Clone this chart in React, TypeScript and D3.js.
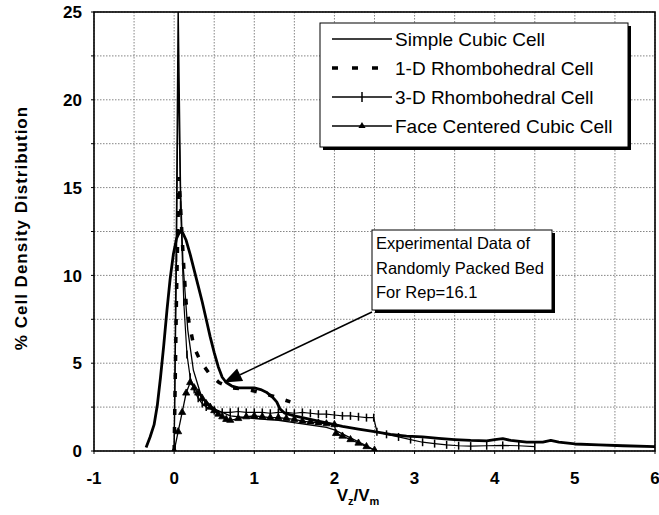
import React from "react";
import * as d3 from "d3";

const xTicks = [-1, 0, 1, 2, 3, 4, 5, 6];
const yTicks = [0, 5, 10, 15, 20, 25];

const legendLabels = [
  "Simple Cubic Cell",
  "1-D Rhombohedral Cell",
  "3-D Rhombohedral Cell",
  "Face Centered Cubic Cell",
];

const annotationLines = ["Experimental Data of", "Randomly Packed Bed", "For Rep=16.1"];

// Experimental data (thick solid line, no legend entry)
const experimental: [number, number][] = [
  [-0.35, 0.2], [-0.3, 0.8], [-0.25, 1.5], [-0.21, 2.6], [-0.17, 4.2], [-0.13, 6.0],
  [-0.09, 8.0], [-0.05, 9.8], [-0.01, 11.2], [0.03, 12.1], [0.07, 12.5], [0.11, 12.4],
  [0.15, 12.0], [0.2, 11.2], [0.25, 10.3], [0.3, 9.4], [0.35, 8.5], [0.4, 7.5],
  [0.45, 6.5], [0.5, 5.6], [0.55, 4.8], [0.6, 4.2], [0.65, 3.9], [0.72, 3.7],
  [0.8, 3.6], [0.9, 3.6], [1.0, 3.6], [1.08, 3.5], [1.15, 3.35], [1.22, 3.1],
  [1.28, 2.8], [1.32, 2.4], [1.38, 2.15], [1.5, 2.0], [1.7, 1.8], [1.9, 1.6],
  [2.1, 1.4], [2.3, 1.25], [2.5, 1.1], [2.7, 0.95], [2.9, 0.85], [3.1, 0.8],
  [3.3, 0.72], [3.5, 0.65], [3.7, 0.6], [3.9, 0.58], [4.0, 0.65], [4.1, 0.7],
  [4.2, 0.6], [4.4, 0.5], [4.6, 0.5], [4.7, 0.6], [4.8, 0.5], [5.0, 0.4],
  [5.3, 0.35], [5.6, 0.3], [6.0, 0.25],
];

// Simple Cubic Cell (thin solid)
const simpleCubic: [number, number][] = [
  [0.0, 0], [0.03, 14], [0.05, 25.5], [0.08, 15], [0.11, 10.7], [0.17, 6.9],
  [0.24, 4.6], [0.34, 3.1], [0.5, 2.4], [0.7, 2.0], [1.0, 1.85], [1.3, 1.75],
  [1.6, 1.55], [1.9, 1.35], [2.0, 1.2], [2.2, 0.75], [2.4, 0.3], [2.5, 0.05],
];

// 1-D Rhombohedral Cell (thick dashed)
const rhombo1D: [number, number][] = [
  [0.0, 0], [0.03, 9], [0.06, 15.6], [0.09, 13], [0.12, 10.5], [0.15, 8.4],
  [0.19, 7.2], [0.25, 5.9], [0.33, 5.1], [0.44, 4.4], [0.56, 3.9], [0.71, 3.6],
  [0.92, 3.5], [1.1, 3.3], [1.25, 3.1], [1.45, 2.8],
];

// 3-D Rhombohedral Cell (thin line with + markers)
const rhombo3D: [number, number][] = [
  [0.0, 0], [0.03, 11], [0.05, 22], [0.08, 14], [0.12, 8.5], [0.16, 5.5],
  [0.2, 4.2], [0.25, 3.5], [0.3, 3.0], [0.35, 2.7], [0.4, 2.5], [0.5, 2.3],
  [0.6, 2.2], [0.7, 2.2], [0.8, 2.25], [0.9, 2.2], [1.0, 2.2], [1.1, 2.2],
  [1.2, 2.15], [1.3, 2.2], [1.4, 2.2], [1.5, 2.15], [1.6, 2.2], [1.7, 2.15],
  [1.8, 2.1], [1.9, 2.1], [2.0, 2.05], [2.1, 2.0], [2.2, 2.0], [2.3, 1.95],
  [2.4, 1.9], [2.49, 1.9], [2.53, 1.1], [2.65, 0.95], [2.8, 0.8], [2.95, 0.65],
  [3.1, 0.5], [3.25, 0.42], [3.4, 0.35], [3.55, 0.3], [3.7, 0.28], [3.9, 0.3],
  [4.1, 0.32], [4.3, 0.3], [4.5, 0.25],
];

// Face Centered Cubic Cell (thin line with triangle markers)
const fcc: [number, number][] = [
  [0.0, 0], [0.05, 1.1], [0.1, 2.2], [0.15, 3.3], [0.2, 3.9], [0.25, 3.6],
  [0.3, 3.3], [0.35, 3.0], [0.4, 2.7], [0.45, 2.5], [0.5, 2.3], [0.55, 2.1],
  [0.6, 1.95], [0.65, 1.8], [0.7, 1.75], [0.8, 1.85], [0.9, 1.95], [1.0, 2.0],
  [1.1, 1.95], [1.2, 1.9], [1.3, 1.9], [1.4, 1.85], [1.5, 1.8], [1.6, 1.7],
  [1.7, 1.65], [1.8, 1.6], [1.9, 1.55], [2.0, 1.5], [2.02, 1.0], [2.1, 0.85],
  [2.2, 0.65], [2.3, 0.45], [2.4, 0.25], [2.5, 0.05],
];

const W = 659;
const H = 515;
const FONT = "'Liberation Sans', Arial, Helvetica, sans-serif";

export default function App() {
  const x = d3.scaleLinear().domain([-1, 6]).range([94, 655]);
  const y = d3.scaleLinear().domain([0, 25]).range([451, 12]);
  const line = d3
    .line<[number, number]>()
    .x((d) => x(d[0]))
    .y((d) => y(d[1]));

  const xGrid = d3.range(-1, 6.001, 0.5);
  const yGrid = d3.range(0, 25.001, 2.5);
  const tri = d3.symbol().type(d3.symbolTriangle).size(22)() as string;

  const legX = 320;
  const legY = 23;
  const legW = 308;
  const legH = 124;

  const annX = 372;
  const annY = 230;
  const annW = 180;
  const annH = 80;

  const arrowFrom: [number, number] = [annX, annY + annH + 2];
  const arrowTo: [number, number] = [x(0.62), y(3.9)];
  const ang = Math.atan2(arrowTo[1] - arrowFrom[1], arrowTo[0] - arrowFrom[0]);
  const aL = 18;
  const aW = 7;
  const baseX = arrowTo[0] - aL * Math.cos(ang);
  const baseY = arrowTo[1] - aL * Math.sin(ang);
  const head = [
    [arrowTo[0], arrowTo[1]],
    [baseX + aW * Math.sin(ang), baseY - aW * Math.cos(ang)],
    [baseX - aW * Math.sin(ang), baseY + aW * Math.cos(ang)],
  ]
    .map((p) => p.join(","))
    .join(" ");

  return (
    <svg
      width={W}
      height={H}
      style={{ position: "absolute", left: 0, top: 0, background: "#fff" }}
      fontFamily={FONT}
    >
      <defs>
        <clipPath id="plot">
          <rect x={94} y={12} width={561} height={439} />
        </clipPath>
      </defs>
      <rect x={0} y={0} width={W} height={H} fill="#fff" />

      {/* grid */}
      {xGrid.map((v) => (
        <line
          key={"gx" + v}
          x1={x(v)}
          x2={x(v)}
          y1={y(25)}
          y2={y(0)}
          stroke="#666"
          strokeWidth={0.8}
          strokeDasharray="1.5 1.5"
        />
      ))}
      {yGrid.map((v) => (
        <line
          key={"gy" + v}
          x1={x(-1)}
          x2={x(6)}
          y1={y(v)}
          y2={y(v)}
          stroke="#666"
          strokeWidth={0.8}
          strokeDasharray="1.5 1.5"
        />
      ))}
      {/* tick marks */}
      {yGrid.map((v) => (
        <line key={"ty" + v} x1={x(-1) - 3} x2={x(-1)} y1={y(v)} y2={y(v)} stroke="#000" />
      ))}
      {xGrid.map((v) => (
        <line key={"tx" + v} x1={x(v)} x2={x(v)} y1={y(0)} y2={y(0) + 3} stroke="#000" />
      ))}

      {/* series */}
      <g clipPath="url(#plot)">
        <path d={line(simpleCubic) as string} fill="none" stroke="#000" strokeWidth={1.3} />
        <path d={line(rhombo3D) as string} fill="none" stroke="#000" strokeWidth={1.2} />
        {rhombo3D.map((d, i) => (
          <line
            key={"p3" + i}
            x1={x(d[0])}
            x2={x(d[0])}
            y1={y(d[1]) - 4}
            y2={y(d[1]) + 4}
            stroke="#000"
            strokeWidth={1.5}
          />
        ))}
        <path d={line(fcc) as string} fill="none" stroke="#000" strokeWidth={1.3} />
        {fcc.map((d, i) => (
          <path
            key={"tf" + i}
            d={tri}
            transform={`translate(${x(d[0])},${y(d[1])})`}
            fill="#000"
            stroke="#000"
            strokeWidth={0.8}
          />
        ))}
        <path
          d={line(rhombo1D) as string}
          fill="none"
          stroke="#000"
          strokeWidth={3.5}
          strokeDasharray="6 12"
        />
        <path d={line(experimental) as string} fill="none" stroke="#000" strokeWidth={2.8} strokeLinejoin="round" />
      </g>

      {/* frame */}
      <rect x={94} y={12} width={561} height={439} fill="none" stroke="#000" strokeWidth={1.6} />

      {/* y tick labels */}
      {yTicks.map((v) => (
        <text
          key={"yl" + v}
          x={82}
          y={y(v)}
          dy="0.36em"
          textAnchor="end"
          fontSize={17}
          fontWeight="bold"
        >
          {v}
        </text>
      ))}
      {/* x tick labels */}
      {xTicks.map((v) => (
        <text
          key={"xl" + v}
          x={x(v)}
          y={484}
          textAnchor="middle"
          fontSize={17}
          fontWeight="bold"
        >
          {v}
        </text>
      ))}

      {/* axis titles */}
      <text
        transform={`translate(27,228) rotate(-90)`}
        textAnchor="middle"
        fontSize={17}
        fontWeight="bold"
        letterSpacing={1}
      >
        % Cell Density Distribution
      </text>
      <text x={358} y={501} textAnchor="middle" fontSize={17} fontWeight="bold">
        V<tspan fontSize={11} dy={4}>z</tspan>
        <tspan dy={-4}>/V</tspan>
        <tspan fontSize={11} dy={4}>m</tspan>
      </text>

      {/* legend */}
      <rect x={legX + 3} y={legY + 3} width={legW} height={legH} fill="#000" />
      <rect x={legX} y={legY} width={legW} height={legH} fill="#fff" stroke="#000" strokeWidth={1} />
      {legendLabels.map((lab, i) => {
        const ly = legY + 16 + i * 29;
        const x1 = legX + 12;
        const x2 = legX + 72;
        const xm = (x1 + x2) / 2;
        return (
          <g key={lab}>
            {i === 1 ? (
              <line x1={x1} x2={x2} y1={ly} y2={ly} stroke="#000" strokeWidth={3.5} strokeDasharray="6 14" />
            ) : (
              <line x1={x1} x2={x2} y1={ly} y2={ly} stroke="#000" strokeWidth={1.3} />
            )}
            {i === 2 && <line x1={xm} x2={xm} y1={ly - 5} y2={ly + 5} stroke="#000" strokeWidth={1.5} />}
            {i === 3 && <path d={tri} transform={`translate(${xm},${ly})`} fill="#000" />}
            <text x={legX + 75} y={ly} dy="0.36em" fontSize={19}>
              {lab}
            </text>
          </g>
        );
      })}

      {/* annotation */}
      <line
        x1={arrowFrom[0]}
        y1={arrowFrom[1]}
        x2={baseX}
        y2={baseY}
        stroke="#000"
        strokeWidth={1.5}
      />
      <polygon points={head} fill="#000" />
      <rect x={annX + 3} y={annY + 3} width={annW} height={annH} fill="#000" />
      <rect x={annX} y={annY} width={annW} height={annH} fill="#fff" stroke="#000" strokeWidth={1} />
      {annotationLines.map((t, i) => (
        <text key={t} x={annX + 4} y={annY + 19 + i * 24.5} fontSize={16.5}>
          {t}
        </text>
      ))}
    </svg>
  );
}
